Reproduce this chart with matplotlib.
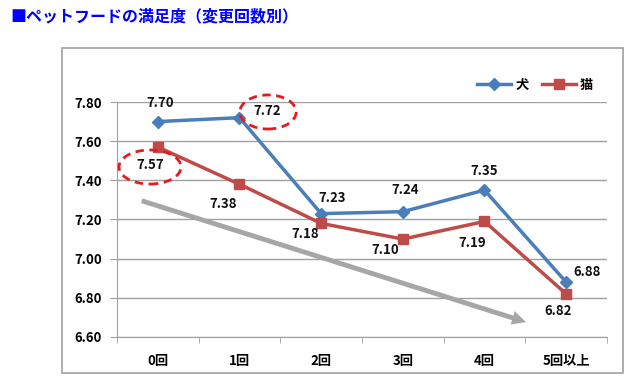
import matplotlib
matplotlib.use("Agg")
import matplotlib.pyplot as plt
from matplotlib.patches import Ellipse, Rectangle

plt.rcParams['font.family'] = ['Noto Sans CJK JP', 'DejaVu Sans']

# データ
categories = ["0回", "1回", "2回", "3回", "4回", "5回以上"]
dog = [7.70, 7.72, 7.23, 7.24, 7.35, 6.88]
cat = [7.57, 7.38, 7.18, 7.10, 7.19, 6.82]
yticks = [6.60, 6.80, 7.00, 7.20, 7.40, 7.60, 7.80]

# ラベルの位置（ピクセル）
dog_off = [(2, 19), (28, 7), (11, 16), (2, 22), (0, 19), (21, 10)]
cat_off = [(-8, -18), (-16, -20), (-16, -11), (-18, -11), (-12, -22), (-8, -17)]

blue = "#4A7EBB"
red = "#BE4B48"

fig = plt.figure(figsize=(6.4, 3.88), dpi=100)

# 外枠
fig.patches.append(Rectangle((62/640, 15/388), 561/640, 325/388, transform=fig.transFigure,
                             fill=False, edgecolor="#A0A0A0", linewidth=1.2))

fig.text(10/640, 1 - 16/388, "■ペットフードの満足度（変更回数別）", color="#0000FF",
         fontsize=11.5, fontweight="bold", va="center", ha="left")

ax = fig.add_axes([117/640, 51/388, 490/640, 235/388])
x = list(range(len(categories)))

ax.plot(x, dog, color=blue, lw=2.5, marker="D", ms=6, label="犬", zorder=3)
ax.plot(x, cat, color=red, lw=2.5, marker="s", ms=7, label="猫", zorder=3)

for i in x:
    ax.annotate(f"{dog[i]:.2f}", (i, dog[i]), xytext=dog_off[i], textcoords="offset pixels",
                ha="center", va="center", fontsize=9.5, fontweight="bold", color="#111111")
    ax.annotate(f"{cat[i]:.2f}", (i, cat[i]), xytext=cat_off[i], textcoords="offset pixels",
                ha="center", va="center", fontsize=9.5, fontweight="bold", color="#111111")

# 灰色の矢印
ax.annotate("", xy=(4.54, 6.672), xytext=(-0.23, 7.30),
            arrowprops=dict(arrowstyle="simple,head_width=1.0,head_length=1.0,tail_width=0.35",
                            color="#A6A6A6", lw=0), zorder=2)

# 赤い点線の楕円
for cx, cy, w, h in [(-0.096, 7.468, 0.76, 0.174), (1.349, 7.749, 0.69, 0.174)]:
    ax.add_patch(Ellipse((cx, cy), w, h, fill=False, edgecolor="#E8191A", lw=2,
                         linestyle=(0, (3, 2)), clip_on=False, zorder=4))

ax.set_xlim(-0.5, len(categories) - 0.5)
ax.set_ylim(6.6, 7.8)
ax.set_yticks(yticks)
ax.set_yticklabels([f"{v:.2f}" for v in yticks], fontsize=9.5, fontweight="bold")
ax.set_xticks(x)
ax.set_xticklabels(categories, fontsize=9.5, fontweight="bold")
ax.set_xticks([i + 0.5 for i in range(-1, len(categories))], minor=True)
ax.tick_params(axis="x", which="major", length=0, pad=12)
ax.tick_params(axis="x", which="minor", length=4, color="#A0A0A0")
ax.tick_params(axis="y", length=5, color="#A0A0A0", pad=6)
ax.grid(axis="y", color="#A0A0A0", lw=1)
ax.set_axisbelow(True)
for s in ["top", "right"]:
    ax.spines[s].set_visible(False)
for s in ["left", "bottom"]:
    ax.spines[s].set_color("#A0A0A0")

leg = ax.legend(loc="upper right", bbox_to_anchor=(605/640, 1 - 66/388), bbox_transform=fig.transFigure,
                ncol=2, frameon=False, handlelength=2.6, columnspacing=1.0, handletextpad=0.3,
                prop={"size": 9.5, "weight": "bold"})

fig.savefig("out.png", dpi=100)
